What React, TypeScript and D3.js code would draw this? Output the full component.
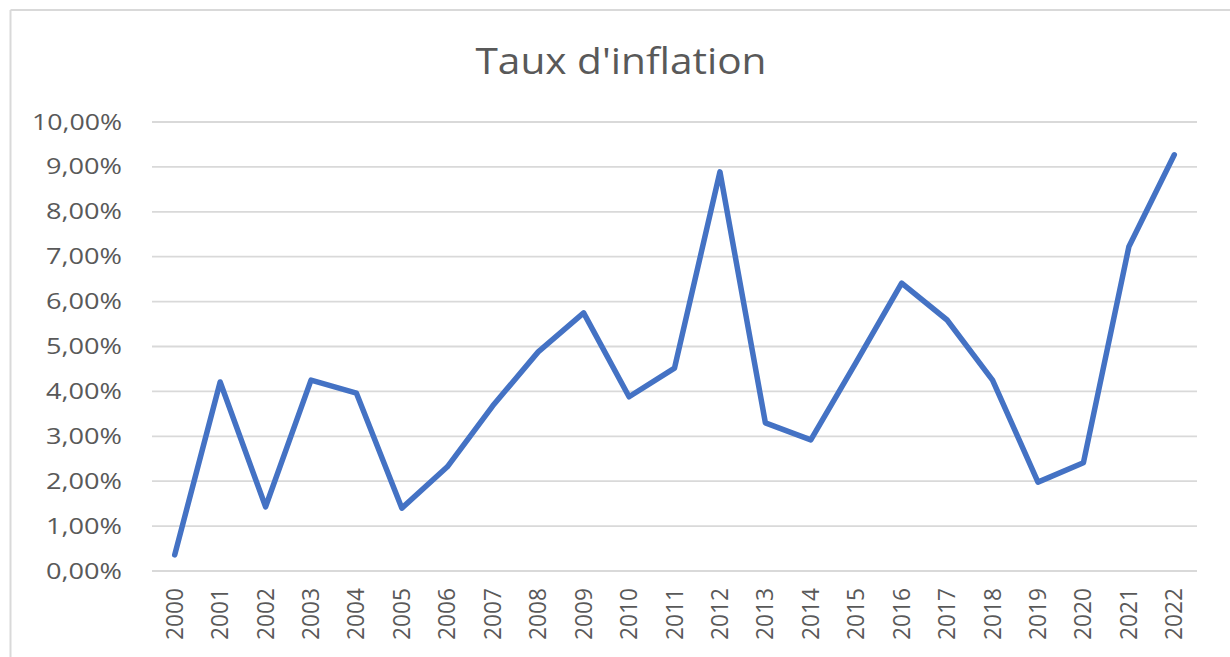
import React from "react";
import * as d3 from "d3";

const years: string[] = [
  "2000", "2001", "2002", "2003", "2004", "2005", "2006", "2007", "2008", "2009", "2010", "2011",
  "2012", "2013", "2014", "2015", "2016", "2017", "2018", "2019", "2020", "2021", "2022",
];
const inflation: number[] = [
  0.36, 4.21, 1.43, 4.25, 3.96, 1.4, 2.32, 3.68, 4.88, 5.75, 3.88, 4.52,
  8.89, 3.3, 2.92, 4.65, 6.41, 5.59, 4.25, 1.98, 2.41, 7.22, 9.27,
];
const yTicks: number[] = [0, 1, 2, 3, 4, 5, 6, 7, 8, 9, 10];
const title = "Taux d'inflation";

const W = 1230;
const H = 657;
const plotLeft = 152;
const plotRight = 1197;
const plotTop = 122;
const plotBottom = 571;

export default function App() {
  const x = d3.scalePoint<string>().domain(years).range([plotLeft, plotRight]).padding(0.5);
  const y = d3.scaleLinear().domain([0, 10]).range([plotBottom, plotTop]);
  const line = d3
    .line<number>()
    .x((_, i) => x(years[i]) as number)
    .y((d) => y(d));
  const fmt = (v: number) => v.toFixed(2).replace(".", ",") + "%";
  const font = "'Open Sans', sans-serif";
  const grey = "#595959";

  return (
    <svg
      width={W}
      height={H}
      style={{ position: "absolute", left: 0, top: 0, background: "#fff" }}
    >
      <rect x={0} y={0} width={W} height={H} fill="#fff" />
      {/* frame */}
      <line x1={10.5} x2={W} y1={10} y2={10} stroke="#d9d9d9" strokeWidth={2} />
      <line x1={10.5} x2={10.5} y1={10} y2={H} stroke="#d9d9d9" strokeWidth={2} />
      {/* title */}
      <text
        x={621}
        y={74}
        textAnchor="middle"
        fontFamily={font}
        fontSize={37}
        fill={grey}
        textLength={291}
        lengthAdjust="spacingAndGlyphs"
      >
        {title}
      </text>
      {/* gridlines */}
      {yTicks.map((t) => (
        <line
          key={"g" + t}
          x1={plotLeft}
          x2={plotRight}
          y1={y(t)}
          y2={y(t)}
          stroke="#d9d9d9"
          strokeWidth={1.8}
        />
      ))}
      {/* y labels */}
      {yTicks.map((t) => (
        <text
          key={"yl" + t}
          x={122}
          y={y(t) + 7.5}
          textAnchor="end"
          fontFamily={font}
          fontSize={22}
          fill={grey}
          textLength={t >= 10 ? 90 : 76}
          lengthAdjust="spacingAndGlyphs"
        >
          {fmt(t)}
        </text>
      ))}
      {/* x labels */}
      {years.map((yr) => (
        <text
          key={"xl" + yr}
          transform={`translate(${(x(yr) as number) + 8},588) rotate(-90)`}
          textAnchor="end"
          fontFamily={font}
          fontSize={23}
          fill={grey}
          textLength={52}
          lengthAdjust="spacingAndGlyphs"
        >
          {yr}
        </text>
      ))}
      {/* series */}
      <path
        d={line(inflation) || ""}
        fill="none"
        stroke="#4472C4"
        strokeWidth={5.5}
        strokeLinejoin="round"
        strokeLinecap="round"
      />
    </svg>
  );
}
